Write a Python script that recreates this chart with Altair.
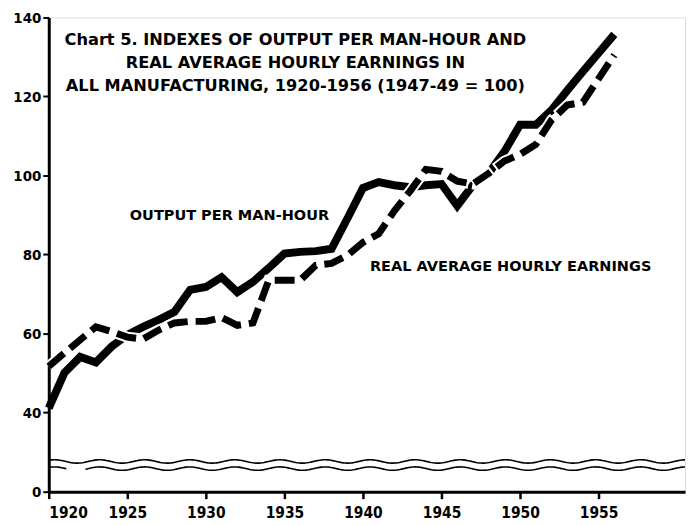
import altair as alt
import pandas as pd
import numpy as np

years = list(range(1920, 1957))
output_per_manhour = [41, 50, 54, 52.6, 56.6, 59.6, 61.6, 63.4, 65.4, 71, 71.7, 74.2, 70.4, 73, 76.5,
                      80.2, 80.6, 80.8, 81.4, 89, 96.8, 98.3, 97.5, 97, 97.5, 97.8, 92.3, 97.5, 100.5,
                      106, 112.8, 112.8, 116.5, 121.5, 126.3, 131, 135.7]
real_hourly_earnings = [51.6, 55, 58.3, 61.6, 60.4, 59, 58.5, 60.8, 62.6, 63, 63, 64, 62, 62.6, 73.4,
                        73.4, 73.4, 77.2, 77.7, 79.7, 83, 85.2, 91, 96, 101.5, 101, 98.5, 97.8, 100.5,
                        103.6, 105.3, 107.8, 114, 117.8, 118.5, 124.5, 130.5]

title_lines = ["Chart 5.  INDEXES OF OUTPUT PER MAN-HOUR AND",
               "REAL AVERAGE HOURLY EARNINGS IN",
               "ALL MANUFACTURING, 1920-1956 (1947-49 = 100)"]
series_labels = ["OUTPUT PER MAN-HOUR", "REAL AVERAGE HOURLY EARNINGS"]

W, H = 640, 477
xs = alt.Scale(domain=[1920, 1960.5], nice=False, zero=False)
ys = alt.Scale(domain=[0, 40, 140], range=[H, 397, 0], nice=False, zero=False)

df = pd.DataFrame({"year": years, "out": output_per_manhour, "earn": real_hourly_earnings})

LABEL_FONT = "Liberation Sans Narrow, DejaVu Sans Condensed, DejaVu Sans"

base = alt.Chart(df)
solid = base.mark_line(color="black", strokeWidth=8, strokeJoin="miter", strokeCap="butt").encode(
    x=alt.X("year:Q", scale=xs, axis=alt.Axis(values=list(range(1920, 1960, 5)), title=None, format="d",
                                              labelFont=LABEL_FONT,
                                              labelFontWeight="bold", labelFontSize=15.5, labelColor="black",
                                              labelPadding=7, tickSize=7, tickWidth=2.5, tickColor="black",
                                              domainColor="black", domainWidth=3, grid=False)),
    y=alt.Y("out:Q", scale=ys, axis=alt.Axis(values=[0, 40, 60, 80, 100, 120, 140], title=None,
                                             labelFont=LABEL_FONT,
                                             labelFontWeight="bold", labelFontSize=15, labelColor="black",
                                             labelPadding=2, tickSize=6, tickWidth=2, tickColor="black",
                                             domainColor="black", domainWidth=3, grid=False)),
)
halo = base.mark_line(color="white", strokeWidth=11, strokeDash=[24, 4], strokeDashOffset=2,
                      strokeCap="butt", strokeJoin="miter").encode(
    x=alt.X("year:Q", scale=xs), y=alt.Y("earn:Q", scale=ys))
dashed = base.mark_line(color="black", strokeWidth=7, strokeDash=[20, 8], strokeCap="butt",
                        strokeJoin="miter").encode(x=alt.X("year:Q", scale=xs), y=alt.Y("earn:Q", scale=ys))

# decorative axis-break waves
wx = np.linspace(1920, 1960.5, 400)
rows = []
for centre, name in [(15.2, "upper"), (11.6, "lower")]:
    for v in wx:
        if name == "lower" and 1921.2 < v < 1922.3:
            continue
        grp = name + ("a" if (name == "lower" and v <= 1921.2) else "")
        rows.append({"x": v, "y": centre - 0.85 * np.cos(2 * np.pi * (v - 1921.8) / 2.87), "g": grp})
wdf = pd.DataFrame(rows)
waves = alt.Chart(wdf).mark_line(color="black", strokeWidth=1.6).encode(
    x=alt.X("x:Q", scale=xs), y=alt.Y("y:Q", scale=ys), detail="g:N")

tdf = pd.DataFrame({"t": title_lines, "x": [1935.7] * 3, "y": [134.4, 128.4, 122.6]})
title = alt.Chart(tdf).mark_text(font="DejaVu Sans", fontWeight="bold", fontSize=16.3, color="black",
                                 baseline="middle", align="center").encode(
    x=alt.X("x:Q", scale=xs), y=alt.Y("y:Q", scale=ys), text="t:N")

ldf = pd.DataFrame({"t": series_labels, "x": [1931.5, 1949.4], "y": [89.6, 76.8]})
labels = alt.Chart(ldf).mark_text(font="DejaVu Sans", fontWeight="bold", fontSize=14.6,
                                  color="black", baseline="middle", align="center").encode(
    x=alt.X("x:Q", scale=xs), y=alt.Y("y:Q", scale=ys), text="t:N")

chart = alt.layer(waves, solid, halo, dashed, title, labels).properties(
    width=W, height=H, autosize=alt.AutoSizeParams(type="none"),
    padding={"left": 41, "top": 8, "right": 3, "bottom": 31},
).configure_view(stroke="black", strokeWidth=2).configure(background="white")

chart.save("out.html", embed_options={"renderer": "svg", "actions": False})
